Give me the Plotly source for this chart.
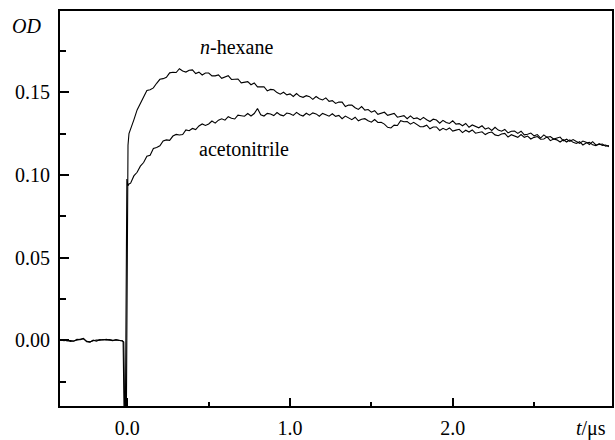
import numpy as np
import plotly.graph_objects as go

# ---- data ----
t_pre = np.round(np.arange(-0.41, -0.029, 0.02), 3)          # pre-trigger sampling times (us)
hexane_pre = [0.0003, -0.0002, 0.0001, -0.0006, -0.0004, 0.0002, 0.0010, 0.0012, -0.0008, -0.0011,
              0.0001, -0.0005, 0.0004, 0.0002, 0.0006, 0.0003, -0.0002, 0.0004, 0.0001, -0.0004]
acn_pre = [0.0001, 0.0002, -0.0003, -0.0001, -0.0005, 0.0006, 0.0004, 0.0009, -0.0006, -0.0009,
           -0.0002, 0.0002, 0.0001, 0.0005, 0.0002, 0.0004, 0.0000, 0.0002, -0.0001, -0.0002]

hexane_trig_t = [-0.022, -0.016, -0.006, 0.004, 0.010]
hexane_trig = [-0.0010, -0.0450, -0.0450, 0.1180, 0.1250]
acn_trig_t = [-0.026, -0.020, -0.012, -0.003, 0.004, 0.010]
acn_trig = [-0.0010, -0.0450, -0.0450, 0.0975, 0.0935, 0.0945]

t_post = np.round(np.arange(0.02, 2.9601, 0.02), 3)          # post-trigger sampling times (us)
hexane_post = [
    0.1282, 0.1333, 0.1393, 0.1432, 0.1472, 0.1511, 0.1515, 0.1526, 0.1554, 0.1578,
    0.1582, 0.1590, 0.1617, 0.1621, 0.1619, 0.1642, 0.1628, 0.1622, 0.1633, 0.1635,
    0.1613, 0.1621, 0.1604, 0.1616, 0.1616, 0.1599, 0.1599, 0.1605, 0.1584, 0.1594,
    0.1600, 0.1577, 0.1577, 0.1580, 0.1557, 0.1562, 0.1564, 0.1545, 0.1556, 0.1532,
    0.1533, 0.1533, 0.1508, 0.1517, 0.1515, 0.1498, 0.1488, 0.1500, 0.1484, 0.1490,
    0.1474, 0.1492, 0.1475, 0.1469, 0.1479, 0.1473, 0.1457, 0.1474, 0.1461, 0.1453,
    0.1466, 0.1445, 0.1449, 0.1432, 0.1441, 0.1440, 0.1413, 0.1422, 0.1422, 0.1406,
    0.1396, 0.1413, 0.1392, 0.1395, 0.1379, 0.1388, 0.1366, 0.1374, 0.1379, 0.1360,
    0.1367, 0.1372, 0.1349, 0.1353, 0.1358, 0.1340, 0.1357, 0.1340, 0.1345, 0.1333,
    0.1348, 0.1334, 0.1323, 0.1337, 0.1332, 0.1313, 0.1330, 0.1317, 0.1311, 0.1327,
    0.1307, 0.1310, 0.1297, 0.1311, 0.1288, 0.1302, 0.1294, 0.1285, 0.1297, 0.1277,
    0.1285, 0.1269, 0.1288, 0.1271, 0.1264, 0.1275, 0.1254, 0.1264, 0.1265, 0.1251,
    0.1264, 0.1242, 0.1246, 0.1253, 0.1236, 0.1244, 0.1223, 0.1242, 0.1227, 0.1232,
    0.1217, 0.1223, 0.1229, 0.1206, 0.1216, 0.1203, 0.1214, 0.1202, 0.1191, 0.1205,
    0.1198, 0.1184, 0.1201, 0.1181, 0.1185, 0.1187, 0.1174, 0.1178]
acn_post = [
    0.0950, 0.0994, 0.1016, 0.1053, 0.1075, 0.1113, 0.1119, 0.1160, 0.1166, 0.1176,
    0.1206, 0.1212, 0.1209, 0.1235, 0.1245, 0.1241, 0.1244, 0.1272, 0.1267, 0.1281,
    0.1274, 0.1296, 0.1308, 0.1299, 0.1308, 0.1326, 0.1313, 0.1331, 0.1339, 0.1331,
    0.1352, 0.1342, 0.1338, 0.1361, 0.1358, 0.1355, 0.1371, 0.1356, 0.1371, 0.1402,
    0.1364, 0.1356, 0.1372, 0.1368, 0.1359, 0.1377, 0.1363, 0.1357, 0.1374, 0.1370,
    0.1360, 0.1378, 0.1364, 0.1356, 0.1373, 0.1361, 0.1375, 0.1369, 0.1355, 0.1372,
    0.1364, 0.1355, 0.1370, 0.1354, 0.1360, 0.1340, 0.1356, 0.1346, 0.1334, 0.1349,
    0.1327, 0.1337, 0.1340, 0.1328, 0.1319, 0.1335, 0.1317, 0.1318, 0.1307, 0.1288,
    0.1284, 0.1301, 0.1299, 0.1328, 0.1321, 0.1322, 0.1307, 0.1318, 0.1305, 0.1291,
    0.1292, 0.1301, 0.1279, 0.1290, 0.1290, 0.1269, 0.1282, 0.1272, 0.1284, 0.1265,
    0.1271, 0.1276, 0.1256, 0.1270, 0.1259, 0.1272, 0.1252, 0.1255, 0.1261, 0.1244,
    0.1255, 0.1259, 0.1242, 0.1237, 0.1247, 0.1251, 0.1229, 0.1243, 0.1234, 0.1227,
    0.1244, 0.1227, 0.1235, 0.1217, 0.1227, 0.1232, 0.1216, 0.1217, 0.1230, 0.1207,
    0.1217, 0.1212, 0.1199, 0.1213, 0.1199, 0.1212, 0.1197, 0.1190, 0.1201, 0.1181,
    0.1193, 0.1197, 0.1182, 0.1177, 0.1189, 0.1178, 0.1181, 0.1171]

x_major = [0.0, 1.0, 2.0]
x_major_text = ["0.0", "1.0", "2.0"]
x_minor = [0.5, 1.5, 2.5]
y_major = [0.00, 0.05, 0.10, 0.15]
y_major_text = ["0.00", "0.05", "0.10", "0.15"]
y_minor = [-0.025, 0.025, 0.075, 0.125, 0.175]

# ---- build series ----
hx = list(t_pre) + hexane_trig_t + list(t_post)
hy = hexane_pre + hexane_trig + hexane_post
ax = list(t_pre) + acn_trig_t + list(t_post)
ay = acn_pre + acn_trig + acn_post

FONT = "Liberation Serif"
FS = 20

fig = go.Figure()
fig.add_trace(go.Scatter(x=ax, y=ay, mode="lines", name="acetonitrile",
                         line=dict(color="black", width=1.1)))
fig.add_trace(go.Scatter(x=hx, y=hy, mode="lines", name="n-hexane",
                         line=dict(color="black", width=1.1)))

fig.update_layout(
    width=615, height=440,
    margin=dict(l=60, r=3, t=11, b=34),
    paper_bgcolor="white", plot_bgcolor="white",
    showlegend=False,
    font=dict(family=FONT, size=FS, color="black"),
)
fig.update_xaxes(
    range=[-0.414, 2.979], automargin=False,
    tickmode="array", tickvals=x_major, ticktext=x_major_text,
    ticks="inside", ticklen=8, tickwidth=1.5, tickcolor="black",
    minor=dict(tickmode="array", tickvals=x_minor, ticks="inside", ticklen=4,
               tickwidth=1.5, tickcolor="black", showgrid=False),
    showline=True, linewidth=1.8, linecolor="black", mirror=True,
    showgrid=False, zeroline=False, ticklabelstandoff=3,
    tickfont=dict(family=FONT, size=FS, color="black"),
)
fig.update_yaxes(
    range=[-0.0397, 0.1991], automargin=False,
    tickmode="array", tickvals=y_major, ticktext=y_major_text,
    ticks="inside", ticklen=9, tickwidth=1.5, tickcolor="black",
    minor=dict(tickmode="array", tickvals=y_minor, ticks="inside", ticklen=6,
               tickwidth=1.5, tickcolor="black", showgrid=False),
    showline=True, linewidth=1.8, linecolor="black", mirror=True,
    showgrid=False, zeroline=False, ticklabelstandoff=4,
    tickfont=dict(family=FONT, size=FS, color="black"),
)

fig.add_annotation(text="<i>OD</i>", xref="paper", yref="paper",
                   x=-0.0598, y=0.962, xanchor="center", yanchor="middle",
                   showarrow=False, font=dict(family=FONT, size=FS, color="black"))
fig.add_annotation(text="<i>t</i>/\u03bcs", xref="paper", yref="paper",
                   x=0.962, y=-0.0557, xanchor="center", yanchor="middle",
                   showarrow=False, font=dict(family=FONT, size=FS, color="black"))
fig.add_annotation(text="<i>n</i>-hexane", xref="x", yref="y",
                   x=0.671, y=0.1773, xanchor="center", yanchor="middle",
                   showarrow=False, font=dict(family=FONT, size=FS, color="black"))
fig.add_annotation(text="acetonitrile", xref="x", yref="y",
                   x=0.714, y=0.1154, xanchor="center", yanchor="middle",
                   showarrow=False, font=dict(family=FONT, size=FS, color="black"))

fig.write_html("out.html", config={"displayModeBar": False},
               post_script="document.body.style.margin='0px';document.body.style.padding='0px';")
